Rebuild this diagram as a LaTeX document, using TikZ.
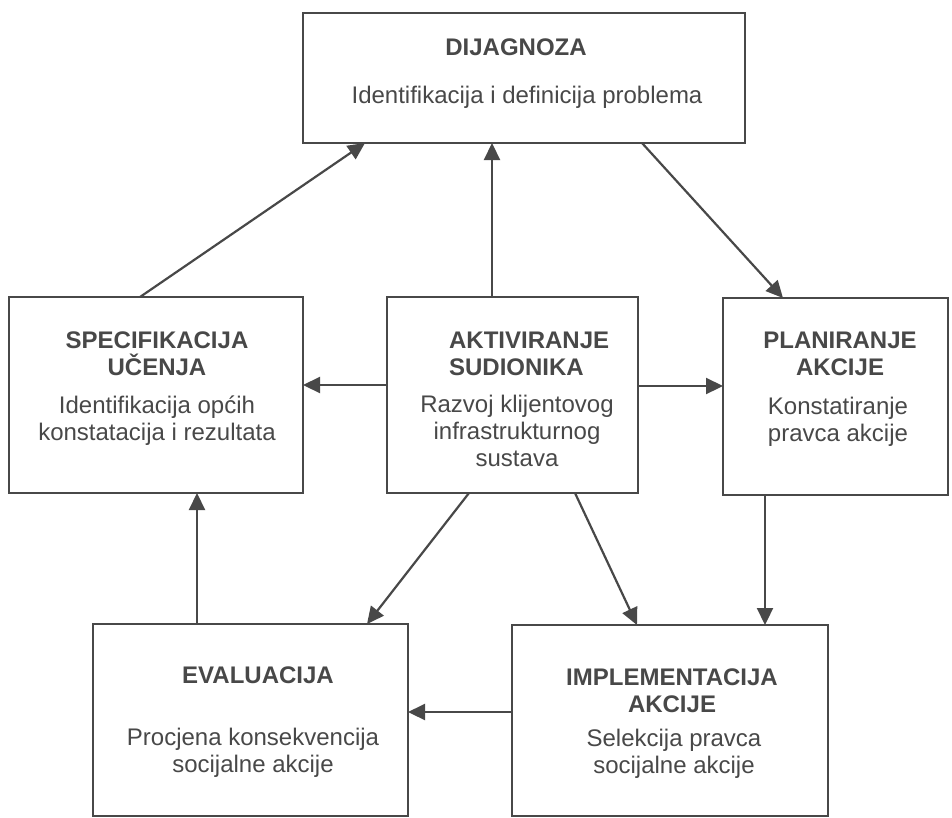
\documentclass[tikz,border=0pt]{standalone}
\usepackage{fontspec}
\setmainfont{Liberation Sans}
\usetikzlibrary{arrows.meta}
\definecolor{ink}{RGB}{72,72,72}

\begin{document}
\begin{tikzpicture}[x=1pt, y=-1pt, >={Triangle[length=17pt,width=16pt]},
    line width=2.2pt, draw=ink,
    box/.style={draw=ink, rectangle, inner sep=0pt, outer sep=0pt},
    title/.style={text=ink, anchor=base, align=center, inner sep=0pt,
                  font=\fontsize{24}{27}\selectfont\bfseries},
    body/.style={text=ink, anchor=base, align=center, inner sep=0pt,
                 font=\fontsize{24}{27}\selectfont}]
  \useasboundingbox (0,0) rectangle (952,817);
  % boxes
  \node[box, minimum width=442pt, minimum height=130pt] (dij) at (524,78) {};
  \node[box, minimum width=294pt, minimum height=196pt] (spec) at (156,395) {};
  \node[box, minimum width=251pt, minimum height=196pt] (akt) at (512.5,395) {};
  \node[box, minimum width=225pt, minimum height=197pt] (plan) at (835.5,396.5) {};
  \node[box, minimum width=315pt, minimum height=192pt] (eval) at (250.5,720) {};
  \node[box, minimum width=316pt, minimum height=191pt] (impl) at (670,720.5) {};
  % texts (base = last line)
  \node[title] (dijT) at (516,55) {DIJAGNOZA};
  \node[body] (dijB) at (527,103) {Identifikacija i definicija problema};
  \node[title] (specT) at (157,375) {SPECIFIKACIJA\\UČENJA};
  \node[body] (specB) at (157,440) {Identifikacija općih\\konstatacija i rezultata};
  \node[title, align=left, anchor=base west] (aktT) at (448,375) {AKTIVIRANJE\\SUDIONIKA};
  \node[body] (aktB) at (517,466) {Razvoj klijentovog\\infrastrukturnog\\sustava};
  \node[title] (planT) at (840,375) {PLANIRANJE\\AKCIJE};
  \node[body] (planB) at (838,441) {Konstatiranje\\pravca akcije};
  \node[title] (evalT) at (258,683) {EVALUACIJA};
  \node[body] (evalB) at (253,772) {Procjena konsekvencija\\socijalne akcije};
  \node[title] (implT) at (672,712) {IMPLEMENTACIJA\\AKCIJE};
  \node[body] (implB) at (674,773) {Selekcija pravca\\socijalne akcije};
  % connectors
  \draw[->] ([xshift=131pt]spec.north west) -- ([xshift=62pt]dij.south west);
  \draw[->] ([xshift=105pt]akt.north west) -- ([xshift=105pt]akt.north west |- dij.south);
  \draw[->] ([xshift=-103pt]dij.south east) -- ([xshift=60pt]plan.north west);
  \draw[->] ([yshift=-88pt]akt.north west) -- ([yshift=-88pt]akt.north west -| spec.east);
  \draw[->] ([yshift=-89pt]akt.north east) -- ([yshift=-89pt]akt.north east -| plan.west);
  \draw[->] ([xshift=82pt]akt.south west) -- ([xshift=-41pt]eval.north east);
  \draw[->] ([xshift=188pt]akt.south west) -- ([xshift=125pt]impl.north west);
  \draw[->] ([xshift=42pt]plan.south west) -- ([xshift=42pt]plan.south west |- impl.north);
  \draw[->] ([yshift=-87pt]impl.north west) -- ([yshift=-87pt]impl.north west -| eval.east);
  \draw[->] ([xshift=104pt]eval.north west) -- ([xshift=104pt]eval.north west |- spec.south);
\end{tikzpicture}
\end{document}
